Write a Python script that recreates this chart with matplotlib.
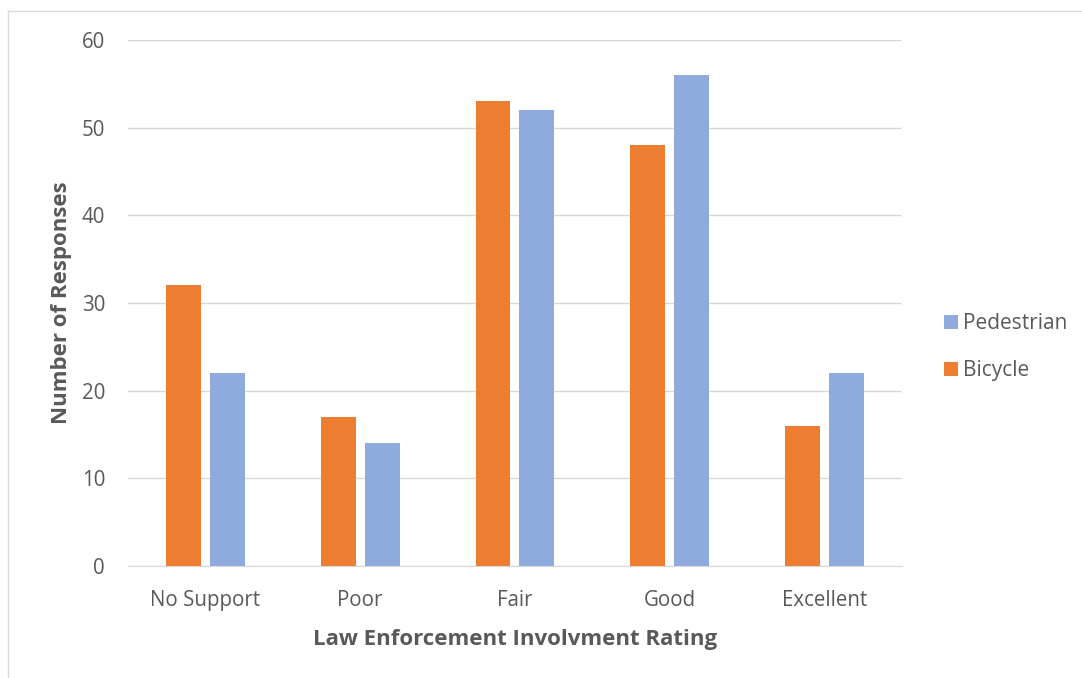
import numpy as np
import matplotlib.pyplot as plt
from matplotlib.lines import Line2D

plt.rcParams['font.family'] = ['Open Sans', 'DejaVu Sans']

categories = ['No Support', 'Poor', 'Fair', 'Good', 'Excellent']
bicycle = [32, 17, 53, 48, 16]
pedestrian = [22, 14, 52, 56, 22]

txt = '#595959'
x = np.arange(len(categories))
w = 0.226

fig = plt.figure(figsize=(10.82, 6.78), dpi=100)
ax = fig.add_axes([0.1183, 0.1652, 0.7153, 0.7758])

b1 = ax.bar(x - 0.142, bicycle, w, color='#ED7D31', label='Bicycle', zorder=3)
b2 = ax.bar(x + 0.142, pedestrian, w, color='#8FAADC', label='Pedestrian', zorder=3)

ax.set_xlim(-0.5, len(categories) - 0.5)
ax.set_ylim(0, 60)
ax.set_yticks(range(0, 61, 10))
ax.set_xticks(x)
ax.set_xticklabels(categories)
ax.grid(axis='y', color='#D9D9D9', linewidth=1, zorder=0)
for s in ['top', 'right', 'left']:
    ax.spines[s].set_visible(False)
ax.spines['bottom'].set_color('#D9D9D9')
ax.tick_params(axis='both', length=0, colors=txt, labelsize=14.8)
ax.tick_params(axis='y', pad=16.5)
ax.tick_params(axis='x', pad=17)

ax.set_ylabel('Number of Responses', fontsize=16, fontweight='bold', color=txt, labelpad=7)
ax.set_xlabel('Law Enforcement Involvment Rating', fontsize=16, fontweight='bold', color=txt, labelpad=13.5)

ax.legend(handles=[b2, b1], loc='center left', bbox_to_anchor=(1.03, 0.416), frameon=False,
          fontsize=15, labelcolor=txt, handlelength=0.67, handleheight=0.67,
          labelspacing=1.23, handletextpad=0.25)

fig.add_artist(Line2D([8 / 1082, 8 / 1082], [0, 1 - 11 / 678], transform=fig.transFigure, color='#D9D9D9', lw=1))
fig.add_artist(Line2D([8 / 1082, 1], [1 - 11 / 678, 1 - 11 / 678], transform=fig.transFigure, color='#D9D9D9', lw=1))

fig.savefig('out.png', dpi=100)
